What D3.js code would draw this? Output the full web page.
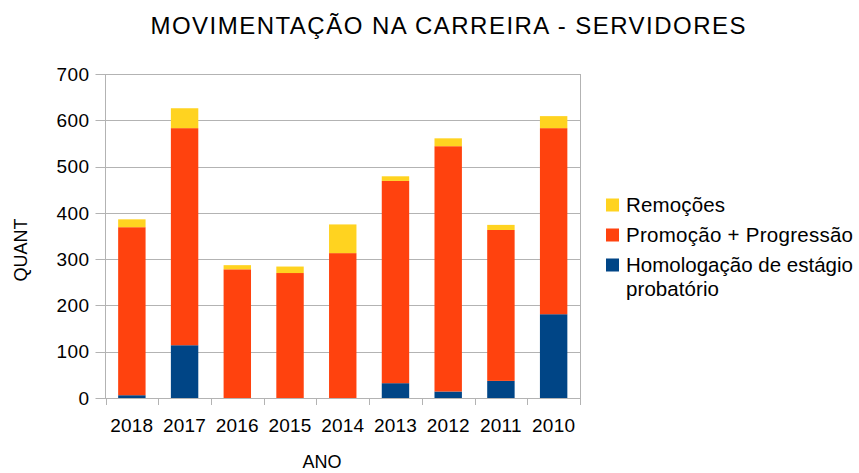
<!DOCTYPE html>
<html>
<head>
<meta charset="utf-8">
<script src="https://cdn.jsdelivr.net/npm/d3@7"></script>
<style>
  body { margin: 0; background: #fff; }
  svg text { font-family: "Liberation Sans", Arial, sans-serif; fill: #000; }
</style>
</head>
<body>
<div id="chart"></div>
<script>
// data
const years = ['2018', '2017', '2016', '2015', '2014', '2013', '2012', '2011', '2010'];
const homologacao = [6, 114, 0, 0, 0, 32, 14, 37, 181];
const promocao = [363, 469, 278, 270, 313, 437, 530, 326, 402];
const remocoes = [17, 43, 9, 14, 62, 10, 17, 11, 26];
const yTicks = [0, 100, 200, 300, 400, 500, 600, 700];

const seriesNames = ['Homologação de estágio probatório', 'Promoção + Progressão', 'Remoções'];
const seriesColors = ['#004586', '#ff420e', '#ffd320'];

const width = 859, height = 473;
const margin = {left: 105.5, right: 279, top: 74, bottom: 75};

const rows = years.map((y, i) => ({
    year: y,
    h: homologacao[i],
    p: promocao[i],
    r: remocoes[i]
}));
const stack = d3.stack().keys(['h', 'p', 'r'])(rows);

const svg = d3.select('#chart')
    .append('svg')
    .attr('width', width)
    .attr('height', height);

const x = d3.scaleBand()
    .domain(years)
    .range([margin.left, width - margin.right])
    .paddingInner(0.48)
    .paddingOuter(0.24);

const y = d3.scaleLinear()
    .domain([0, 700])
    .range([height - margin.bottom, margin.top]);

// gridlines (they stick out left as tick marks)
svg.append('g')
    .selectAll('line')
    .data(yTicks)
    .enter()
    .append('line')
    .attr('x1', margin.left - 10)
    .attr('x2', width - margin.right)
    .attr('y1', d => Math.round(y(d)) + 0.5)
    .attr('y2', d => Math.round(y(d)) + 0.5)
    .attr('stroke', '#b3b3b3')
    .attr('stroke-width', 1);

// right border
svg.append('line')
    .attr('x1', width - margin.right + 0.5)
    .attr('x2', width - margin.right + 0.5)
    .attr('y1', margin.top)
    .attr('y2', height - margin.bottom)
    .attr('stroke', '#b3b3b3');

// bars
svg.append('g')
    .selectAll('g')
    .data(stack)
    .enter()
    .append('g')
    .attr('fill', (d, i) => seriesColors[i])
    .selectAll('rect')
    .data(d => d)
    .enter()
    .append('rect')
    .attr('x', d => x(d.data.year))
    .attr('width', x.bandwidth())
    .attr('y', d => y(d[1]))
    .attr('height', d => y(d[0]) - y(d[1]));

// y axis line
svg.append('line')
    .attr('x1', margin.left)
    .attr('x2', margin.left)
    .attr('y1', margin.top)
    .attr('y2', height - margin.bottom)
    .attr('stroke', '#b3b3b3');

// x axis ticks at category boundaries
const bounds = d3.range(years.length + 1).map(i => margin.left + i * (width - margin.left - margin.right) / years.length);
svg.append('g')
    .selectAll('line')
    .data(bounds)
    .enter()
    .append('line')
    .attr('x1', d => Math.round(d) + 0.5)
    .attr('x2', d => Math.round(d) + 0.5)
    .attr('y1', height - margin.bottom)
    .attr('y2', height - margin.bottom + 7)
    .attr('stroke', '#b3b3b3');

// y tick labels
svg.append('g')
    .selectAll('text')
    .data(yTicks)
    .enter()
    .append('text')
    .attr('x', margin.left - 16)
    .attr('y', d => y(d))
    .attr('dy', '0.35em')
    .attr('text-anchor', 'end')
    .style('font-size', '19px')
    .style('letter-spacing', '0.4px')
    .text(d => d);

// x tick labels
svg.append('g')
    .selectAll('text')
    .data(years)
    .enter()
    .append('text')
    .attr('x', d => x(d) + x.bandwidth() / 2)
    .attr('y', 431.5)
    .attr('text-anchor', 'middle')
    .style('font-size', '19px')
    .style('letter-spacing', '0.2px')
    .text(d => d);

// titles
svg.append('text')
    .attr('x', 448)
    .attr('y', 34)
    .attr('text-anchor', 'middle')
    .attr('textLength', 595)
    .attr('lengthAdjust', 'spacing')
    .style('font-size', '24px')
    .text('MOVIMENTAÇÃO NA CARREIRA - SERVIDORES');

svg.append('text')
    .attr('x', 322)
    .attr('y', 468)
    .attr('text-anchor', 'middle')
    .style('font-size', '18px')
    .text('ANO');

svg.append('text')
    .attr('transform', 'translate(26.5,250) rotate(-90)')
    .attr('text-anchor', 'middle')
    .style('font-size', '18px')
    .text('QUANT');

// legend
const legendItems = [
    {color: seriesColors[2], lines: [seriesNames[2]], widths: [99]},
    {color: seriesColors[1], lines: [seriesNames[1]], widths: [227]},
    {color: seriesColors[0], lines: ['Homologação de estágio', 'probatório'], widths: [227, 93]}
];
const legend = svg.append('g');
legendItems.forEach((item, i) => {
    const ly = 205 + i * 30;
    legend.append('rect')
        .attr('x', 606)
        .attr('y', ly - 6.5)
        .attr('width', 13)
        .attr('height', 13)
        .attr('fill', item.color);
    item.lines.forEach((t, j) => {
        legend.append('text')
            .attr('x', 626)
            .attr('y', ly + j * 24)
            .attr('dy', '0.35em')
            .attr('textLength', item.widths[j])
            .attr('lengthAdjust', 'spacing')
            .style('font-size', '20.5px')
            .text(t);
    });
});
</script>
</body>
</html>
